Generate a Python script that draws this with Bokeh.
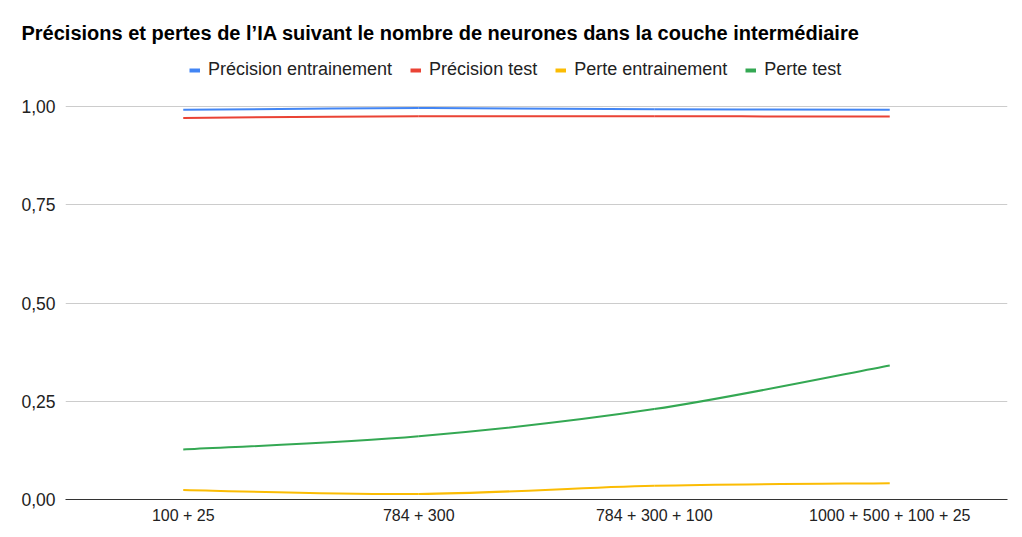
from bokeh.plotting import figure
from bokeh.models import Range1d, FixedTicker, Legend, LegendItem
from bokeh.embed import file_html
from bokeh.resources import INLINE

categories = ["100 + 25", "784 + 300", "784 + 300 + 100", "1000 + 500 + 100 + 25"]
precision_train = [0.9916, 0.9960, 0.9930, 0.9916]
precision_test = [0.9710, 0.9750, 0.9750, 0.9746]
perte_train = [0.024, 0.014, 0.035, 0.0415]
perte_test = [0.127, 0.161, 0.230, 0.341]
series_names = ["Précision entrainement", "Précision test", "Perte entrainement", "Perte test"]
series_values = [precision_train, precision_test, perte_train, perte_test]
colors = ["#4285F4", "#EA4335", "#FBBC04", "#34A853"]
y_ticks = [0, 0.25, 0.5, 0.75, 1.0]
y_labels = ["0,00", "0,25", "0,50", "0,75", "1,00"]

FONT = "Liberation Sans"
W, H = 1012, 529
FRAME_TOP = 44
FRAME_BOTTOM = 499
FRAME_LEFT = 65
FRAME_RIGHT = 1007
ONE_AT = 106
px_per_unit = FRAME_BOTTOM - ONE_AT
y_max = (FRAME_BOTTOM - FRAME_TOP) / px_per_unit

xs = [i + 0.5 for i in range(len(categories))]

p = figure(width=W, height=H, output_backend="svg", toolbar_location=None,
           x_range=Range1d(0, len(categories)), y_range=Range1d(0, y_max),
           min_border_left=FRAME_LEFT, min_border_right=W - FRAME_RIGHT,
           min_border_bottom=H - FRAME_BOTTOM, min_border_top=FRAME_TOP)
p.outline_line_color = None
p.background_fill_color = "white"

p.title.text = "Précisions et pertes de l’IA suivant le nombre de neurones dans la couche intermédiaire"
p.title.text_font = FONT
p.title.text_font_size = "20px"
p.title.text_font_style = "bold"
p.title.text_color = "#000000"
p.title.align = "left"
p.title.offset = 21 - FRAME_LEFT
p.title.standoff = 2

# axes
p.xaxis.ticker = FixedTicker(ticks=xs)
p.xaxis.major_label_overrides = {x: c for x, c in zip(xs, categories)}
p.yaxis.ticker = FixedTicker(ticks=y_ticks)
p.yaxis.major_label_overrides = {t: l for t, l in zip(y_ticks, y_labels)}
for ax in (p.xaxis, p.yaxis):
    ax.major_tick_line_color = None
    ax.minor_tick_line_color = None
    ax.major_tick_out = 0
    ax.major_tick_in = 0
    ax.minor_tick_out = 0
    ax.minor_tick_in = 0
    ax.major_label_text_font = FONT
    ax.major_label_text_color = "#222222"
p.xaxis.major_label_text_font_size = "16px"
p.yaxis.major_label_text_font_size = "17.5px"
p.xaxis.axis_line_color = "#333333"
p.xaxis.major_label_standoff = 7
p.yaxis.axis_line_color = None
p.yaxis.major_label_standoff = 10
p.xgrid.grid_line_color = None
p.ygrid.grid_line_color = "#cccccc"
p.ygrid.ticker = FixedTicker(ticks=y_ticks[1:])

# smooth curves (cubic bezier through data points)
for vals, col in zip(series_values, colors):
    n = len(vals)
    x0, y0, x1, y1, cx0, cy0, cx1, cy1 = [], [], [], [], [], [], [], []
    for i in range(n - 1):
        xp, yp = xs[max(i - 1, 0)], vals[max(i - 1, 0)]
        xa, ya = xs[i], vals[i]
        xb, yb = xs[i + 1], vals[i + 1]
        xn, yn = xs[min(i + 2, n - 1)], vals[min(i + 2, n - 1)]
        x0.append(xa); y0.append(ya); x1.append(xb); y1.append(yb)
        cx0.append(xa + (xb - xp) / 6); cy0.append(ya + (yb - yp) / 6)
        cx1.append(xb - (xn - xa) / 6); cy1.append(yb - (yn - ya) / 6)
    p.bezier(x0=x0, y0=y0, x1=x1, y1=y1, cx0=cx0, cy0=cy0, cx1=cx1, cy1=cy1,
             line_color=col, line_width=2)

# legend (swatch renderers kept outside the visible range)
items = []
for name, col in zip(series_names, colors):
    r = p.line(x=[-10, -9], y=[-10, -10], line_color=col, line_width=4)
    items.append(LegendItem(label=name, renderers=[r]))
legend = Legend(items=items, orientation="horizontal",
                location=(189 - FRAME_LEFT, FRAME_BOTTOM - 80),
                glyph_width=11, glyph_height=20, label_standoff=8, spacing=18,
                padding=0, margin=0, border_line_color=None,
                background_fill_alpha=0,
                label_text_font=FONT, label_text_font_size="18px",
                label_text_color="#222222")
p.add_layout(legend, "center")

open("out.html", "w").write(file_html(p, INLINE))
